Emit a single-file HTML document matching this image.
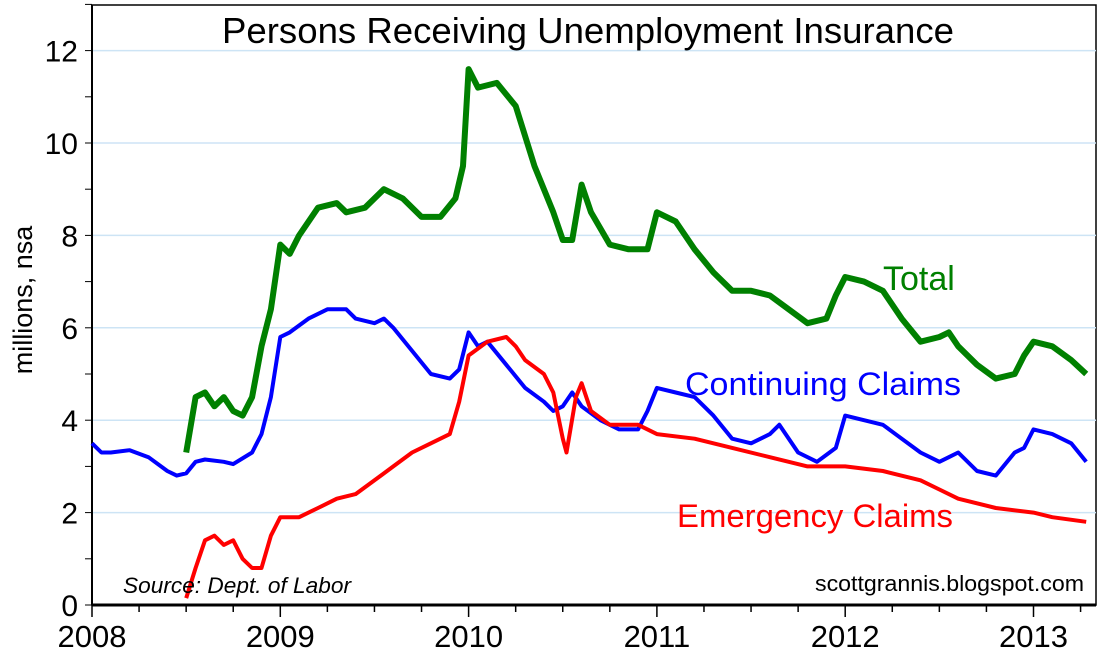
<!DOCTYPE html>
<html><head><meta charset="utf-8"><style>
html,body{margin:0;padding:0;background:#fff;}
svg{display:block;font-family:"Liberation Sans",sans-serif;}
</style></head><body>
<svg id="chart" width="1106" height="660" viewBox="0 0 1106 660" xmlns="http://www.w3.org/2000/svg">
<rect x="92" y="5" width="1004" height="600" fill="none" stroke="#000" stroke-width="1.5"/>
<g id="grid"></g>
<g id="axes"></g>
<g id="series"></g>
<text x="588" y="43" font-size="36" text-anchor="middle" textLength="732" lengthAdjust="spacingAndGlyphs">Persons Receiving Unemployment Insurance</text>
<text transform="translate(32,300) rotate(-90)" font-size="27" text-anchor="middle">millions, nsa</text>
<text x="883" y="290" font-size="34" fill="#008000">Total</text>
<text x="685" y="395" font-size="32" fill="#0000ff" textLength="276" lengthAdjust="spacingAndGlyphs">Continuing Claims</text>
<text x="677" y="527" font-size="32" fill="#ff0000" textLength="276" lengthAdjust="spacingAndGlyphs">Emergency Claims</text>
<text x="123" y="593" font-size="22" font-style="italic" textLength="228" lengthAdjust="spacingAndGlyphs">Source: Dept. of Labor</text>
<text x="1084" y="591" font-size="22" text-anchor="end" textLength="269" lengthAdjust="spacingAndGlyphs">scottgrannis.blogspot.com</text>
</svg>
<script>
const yTicks=[0,2,4,6,8,10,12];
const xTicks=[2008,2009,2010,2011,2012,2013];
const contX=[2008,2008.05,2008.1,2008.2,2008.3,2008.4,2008.45,2008.5,2008.55,2008.6,2008.7,2008.75,2008.85,2008.9,2008.95,2009,2009.05,2009.15,2009.25,2009.35,2009.4,2009.5,2009.55,2009.6,2009.7,2009.8,2009.9,2009.95,2010,2010.05,2010.1,2010.2,2010.3,2010.4,2010.45,2010.5,2010.55,2010.6,2010.7,2010.8,2010.9,2010.95,2011,2011.1,2011.2,2011.3,2011.4,2011.5,2011.6,2011.65,2011.75,2011.85,2011.95,2012,2012.1,2012.2,2012.3,2012.4,2012.5,2012.55,2012.6,2012.7,2012.8,2012.9,2012.95,2013,2013.1,2013.2,2013.28];
const contY=[3.5,3.3,3.3,3.35,3.2,2.9,2.8,2.85,3.1,3.15,3.1,3.05,3.3,3.7,4.5,5.8,5.9,6.2,6.4,6.4,6.2,6.1,6.2,6.0,5.5,5.0,4.9,5.1,5.9,5.6,5.7,5.2,4.7,4.4,4.2,4.3,4.6,4.3,4.0,3.8,3.8,4.2,4.7,4.6,4.5,4.1,3.6,3.5,3.7,3.9,3.3,3.1,3.4,4.1,4.0,3.9,3.6,3.3,3.1,3.2,3.3,2.9,2.8,3.3,3.4,3.8,3.7,3.5,3.1];
const totX=[2008.5,2008.55,2008.6,2008.65,2008.7,2008.75,2008.8,2008.85,2008.9,2008.95,2009,2009.05,2009.1,2009.2,2009.3,2009.35,2009.45,2009.55,2009.65,2009.75,2009.85,2009.93,2009.97,2010,2010.05,2010.15,2010.25,2010.35,2010.45,2010.5,2010.55,2010.6,2010.65,2010.75,2010.85,2010.95,2011,2011.1,2011.2,2011.3,2011.4,2011.5,2011.6,2011.7,2011.8,2011.9,2011.95,2012,2012.1,2012.2,2012.3,2012.4,2012.5,2012.55,2012.6,2012.7,2012.8,2012.9,2012.95,2013,2013.1,2013.2,2013.28];
const totY=[3.3,4.5,4.6,4.3,4.5,4.2,4.1,4.5,5.6,6.4,7.8,7.6,8.0,8.6,8.7,8.5,8.6,9.0,8.8,8.4,8.4,8.8,9.5,11.6,11.2,11.3,10.8,9.5,8.5,7.9,7.9,9.1,8.5,7.8,7.7,7.7,8.5,8.3,7.7,7.2,6.8,6.8,6.7,6.4,6.1,6.2,6.7,7.1,7.0,6.8,6.2,5.7,5.8,5.9,5.6,5.2,4.9,5.0,5.4,5.7,5.6,5.3,5.0];
const emgX=[2008.5,2008.55,2008.6,2008.65,2008.7,2008.75,2008.8,2008.85,2008.9,2008.95,2009,2009.1,2009.2,2009.3,2009.4,2009.5,2009.6,2009.7,2009.8,2009.9,2009.95,2010,2010.1,2010.2,2010.25,2010.3,2010.4,2010.45,2010.5,2010.52,2010.57,2010.6,2010.65,2010.75,2010.9,2011,2011.2,2011.4,2011.6,2011.8,2012,2012.2,2012.4,2012.5,2012.6,2012.8,2013,2013.1,2013.28];
const emgY=[0.15,0.8,1.4,1.5,1.3,1.4,1.0,0.8,0.8,1.5,1.9,1.9,2.1,2.3,2.4,2.7,3.0,3.3,3.5,3.7,4.4,5.4,5.7,5.8,5.6,5.3,5.0,4.6,3.6,3.3,4.5,4.8,4.2,3.9,3.9,3.7,3.6,3.4,3.2,3.0,3.0,2.9,2.7,2.5,2.3,2.1,2.0,1.9,1.8];
const NS='http://www.w3.org/2000/svg';
const X0=92,PX=188.3,Y0=605,PY=46.2;
function sx(t){return X0+(t-2008)*PX;}
function sy(v){return Y0-v*PY;}
function mk(tag,attrs,parent){const e=document.createElementNS(NS,tag);for(const k in attrs)e.setAttribute(k,attrs[k]);parent.appendChild(e);return e;}
const grid=document.getElementById('grid'),axes=document.getElementById('axes'),ser=document.getElementById('series');
yTicks.forEach(v=>{
  if(v>0){const g=mk('line',{x1:X0,x2:1096,y1:sy(v),y2:sy(v),stroke:'#cde4f5','stroke-width':1.5},grid);
  
  }
  const t=mk('text',{x:78,y:sy(v)+11,'font-size':30,'text-anchor':'end'},axes);t.textContent=v;
  
  
});
for(let v=0;v<=13;v++){const l=mk('line',{x1:85,x2:X0,y1:sy(v),y2:sy(v),stroke:'#000','stroke-width':1},axes);
  
  }
for(let q=0;q<=21;q++){const x=sx(2008+q/4);const l=mk('line',{x1:x,x2:x,y1:Y0,y2:q%4==0?Y0+12:Y0+7,stroke:'#000','stroke-width':1.5},axes);
  
  }
xTicks.forEach(yr=>{const t=mk('text',{x:sx(yr),y:647,'font-size':31,'text-anchor':'middle'},axes);t.textContent=yr;
  
  });
const ax=mk('line',{x1:X0,x2:1096,y1:Y0,y2:Y0,stroke:'#000','stroke-width':3},axes);


const ay=mk('line',{x1:X0,x2:X0,y1:5,y2:Y0,stroke:'#000','stroke-width':2},axes);


function line(xs,ys,color,w,name){
  const d=xs.map((t,i)=>(i?'L':'M')+sx(t).toFixed(1)+','+sy(ys[i]).toFixed(1)).join('');
  const p=mk('path',{d:d,fill:'none',stroke:color,'stroke-width':w,'stroke-linejoin':'round'},ser);
  
  
}
line(contX,contY,'#0000ff',4,'continuing-claims-line');
line(emgX,emgY,'#ff0000',4,'emergency-claims-line');
line(totX,totY,'#008000',6,'total-line');
</script>
</body></html>
